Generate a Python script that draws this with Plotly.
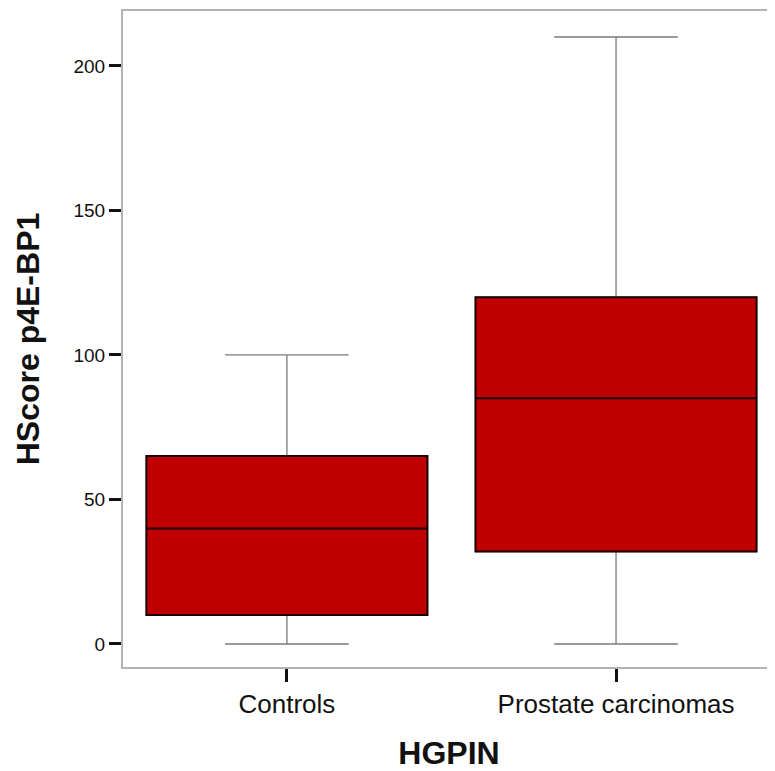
import plotly.graph_objects as go

categories = ["Controls", "Prostate carcinomas"]
lower_whisker = [0, 0]
q1 = [10, 32]
median = [40, 85]
q3 = [65, 120]
upper_whisker = [100, 210]
y_ticks = [0, 50, 100, 150, 200]

fig = go.Figure()

# whiskers (gray, thin)
fig.add_trace(go.Box(
    x=categories, q1=q1, median=median, q3=q3,
    lowerfence=lower_whisker, upperfence=upper_whisker,
    width=0.854, whiskerwidth=0.44,
    line=dict(color="#7a7a7a", width=1.3),
    fillcolor="rgba(0,0,0,0)", boxpoints=False, hoverinfo="skip",
    showlegend=False,
))
# boxes (red fill, black outline)
fig.add_trace(go.Box(
    x=categories, q1=q1, median=median, q3=q3,
    lowerfence=q1, upperfence=q3,
    width=0.854, whiskerwidth=0,
    line=dict(color="#1a0000", width=2),
    fillcolor="#c00000", boxpoints=False, hoverinfo="skip",
    showlegend=False,
))

fig.update_layout(
    width=767, height=763,
    margin=dict(l=115, r=0, t=3, b=104),
    plot_bgcolor="white", paper_bgcolor="white",
    font=dict(family="Liberation Sans, Arial, sans-serif", color="#111111"),
    boxmode="overlay",
)
fig.update_xaxes(
    type="category", range=[-0.498, 1.483], automargin=False,
    showline=True, linecolor="#b3b3b3", linewidth=2, mirror=True,
    ticks="outside", ticklen=13, tickwidth=3, tickcolor="#111111",
    tickfont=dict(size=26), showgrid=False, zeroline=False,
    title=dict(text="<b>HGPIN</b>", font=dict(size=32), standoff=23),
)
fig.update_yaxes(
    range=[-7.96, 219.0], tickvals=y_ticks, automargin=False,
    showline=True, linecolor="#b3b3b3", linewidth=2,
    ticks="outside", ticklen=12, tickwidth=3, tickcolor="#111111",
    tickfont=dict(size=19), showgrid=False, zeroline=False,
    title=dict(text="<b>HScore p4E-BP1</b>", font=dict(size=32), standoff=24),
)

fig.write_html("out.html")
